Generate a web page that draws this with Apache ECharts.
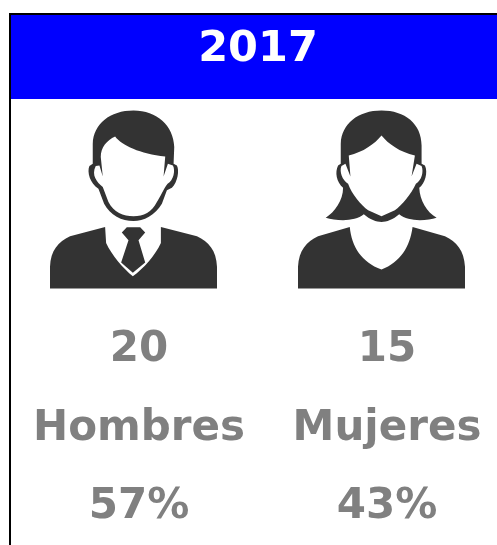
<!DOCTYPE html>
<html>
<head>
<meta charset="utf-8">
<style>
  html, body { margin: 0; padding: 0; background: #fff; }
  #main { width: 497px; height: 545px; }
</style>
<script src="https://cdn.jsdelivr.net/npm/echarts@6/dist/echarts.min.js"></script>
</head>
<body>
<div id="main"></div>
<script>
var year = '2017';
var categories = ['Hombres', 'Mujeres'];
var counts = [20, 15];
var shares = [57, 43];

// siluetas, trazadas sobre el zoom x3 de la referencia
var iconMan = 'path://M310,30 C380,30 430,75 432,140 L430,190 L440,195 C448,210 442,245 425,262 L410,270 L395,310 C375,345 340,362 310,362 C275,362 240,345 222,310 L205,265 C180,250 170,215 178,197 L188,190 L188,130 C190,70 240,30 310,30 Z ' +
  'M255,108 C230,120 212,140 212,170 L218,228 L208,195 L197,197 C183,225 200,245 218,260 L235,305 C250,335 280,348 310,348 C340,348 365,335 380,305 C390,290 400,265 412,250 C430,240 436,210 428,195 L413,190 L400,228 L405,168 C330,160 275,135 255,108 Z ' +
  'M60,565 L60,500 C62,450 85,425 120,408 L225,380 L228,428 C245,465 280,505 308,528 C340,505 375,465 392,428 L392,380 L500,408 C535,425 558,450 560,500 L560,565 Z ' +
  'M275,397 L290,381 L330,381 L345,397 L325,420 L345,487 L308,518 L273,487 L295,420 Z';
var iconWoman = 'path://M305,30 C375,30 425,70 425,135 L425,190 L435,195 C445,215 435,250 418,262 C420,300 440,335 470,352 C440,362 385,365 358,342 C340,358 320,365 305,365 C290,365 270,358 252,342 C225,365 170,362 138,352 C165,335 190,300 190,262 C170,245 165,215 175,195 L183,190 L183,130 C185,70 235,30 305,30 Z ' +
  'M305,105 C285,130 250,155 207,165 L212,228 L197,190 L185,197 C178,215 188,240 205,250 C215,280 245,315 265,330 L305,348 L345,330 C365,315 395,280 408,250 C425,240 432,215 425,197 L410,190 L395,228 L405,165 C360,155 325,130 305,105 Z ' +
  'M55,565 L55,500 C58,450 80,425 115,408 L210,380 C216,440 245,485 305,508 C362,485 390,440 398,380 L495,408 C530,425 552,450 555,500 L555,565 Z';
var icons = [iconMan, iconWoman];

var fontFamily = '"DejaVu Sans", Verdana, sans-serif';

function textRow(name, y, texts) {
  return {
    name: name,
    type: 'scatter',
    symbolSize: 1,
    itemStyle: { color: 'transparent', opacity: 1 },
    silent: true,
    data: categories.map(function (c, i) {
      return {
        value: [c, y],
        label: {
          show: true,
          position: 'inside',
          formatter: texts[i],
          color: '#808080',
          fontFamily: fontFamily,
          fontWeight: 'bold',
          fontSize: 42
        }
      };
    })
  };
}

var myChart = echarts.init(document.getElementById('main'), null, { renderer: 'canvas' });

var option = {
  animation: false,
  backgroundColor: '#fff',
  title: {
    text: year,
    left: 253,
    top: 23,
    textAlign: 'center',
    textStyle: {
      color: '#fff',
      fontFamily: fontFamily,
      fontWeight: 'bold',
      fontSize: 43
    }
  },
  grid: { left: 15, top: 0, width: 496, height: 545, outerBoundsMode: 'none' },
  xAxis: { type: 'category', data: categories, show: false },
  yAxis: { type: 'value', min: 0, max: 545, inverse: true, show: false },
  graphic: [
    { type: 'rect', z: -1, shape: { x: 11, y: 15, width: 486, height: 84 }, style: { fill: '#0000ff' } },
    { type: 'rect', z: -1, shape: { x: 9, y: 13, width: 488, height: 2 }, style: { fill: '#000' } },
    { type: 'rect', z: -1, shape: { x: 9, y: 13, width: 2, height: 532 }, style: { fill: '#000' } }
  ],
  series: [
    {
      name: 'iconos',
      type: 'scatter',
      silent: true,
      symbolKeepAspect: false,
      symbolSize: [167, 178],
      symbolOffset: [-5.5, 0],
      itemStyle: { color: '#333333', opacity: 1 },
      data: categories.map(function (c, i) {
        return { value: [c, 199.5], symbol: icons[i] };
      })
    },
    textRow('total', 350, counts.map(String)),
    textRow('nombre', 429, categories),
    textRow('porcentaje', 507, shares.map(function (s) { return s + '%'; }))
  ]
};

myChart.setOption(option);
</script>
</body>
</html>
